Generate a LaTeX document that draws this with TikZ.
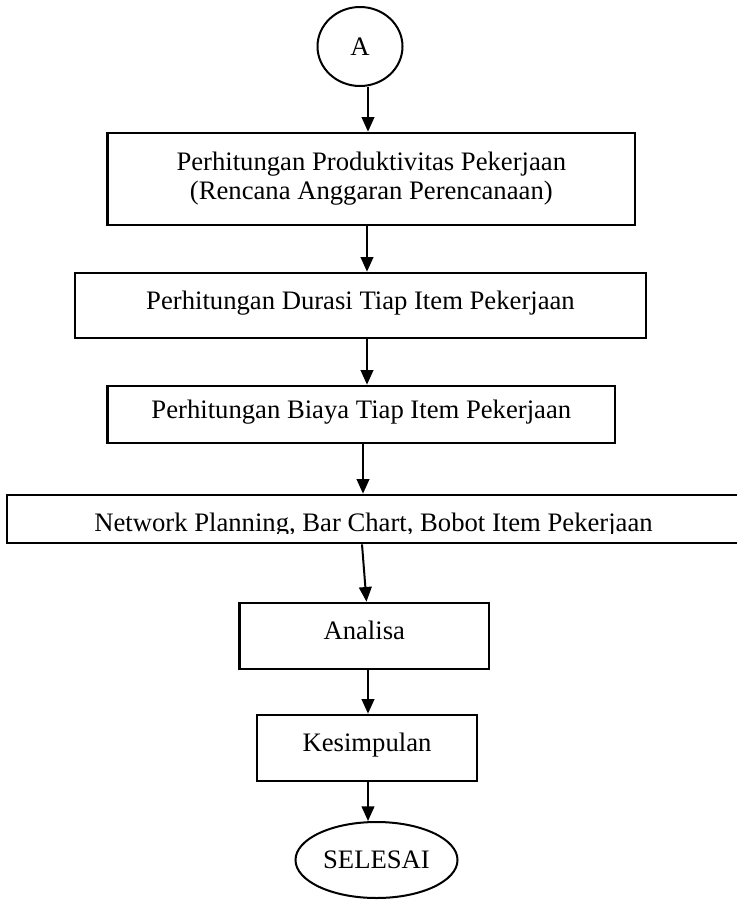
\documentclass[tikz,border=0pt]{standalone}
\usepackage{fontspec}
\setmainfont{Liberation Serif}
\usetikzlibrary{arrows.meta,shapes.geometric}

\tikzset{every picture/.style={line width=0.75pt}}
\tikzset{
  proc/.style={draw, line width=2pt, rectangle, inner sep=0pt, align=center},
  onerow/.style={text depth=8pt},
  term/.style={draw, line width=1.5pt, ellipse, inner sep=0pt},
  flow/.style={line width=1.5pt, -{Triangle[length=11pt,width=9.5pt]}}
}

\begin{document}
\begin{tikzpicture}[x=0.75pt,y=0.75pt,yscale=-1,xscale=1,font=\fontsize{20}{21.75}\selectfont]
\useasboundingbox (0,0) rectangle (737,900);

%Shape: Ellipse
\node [term, minimum width=63.75pt, minimum height=59.25pt] (nA) at (360,46.5) {A};
%Shape: Rectangle
\node [proc, minimum width=395.6pt, minimum height=69pt] (hitProd) at (371.3,179) {Perhitungan Produktivitas Pekerjaan\\(Rencana Anggaran Perencanaan)};
%Shape: Rectangle
\node [proc, onerow, minimum width=428.25pt, minimum height=48.75pt] (hitDur) at (360.5,305.5) {Perhitungan Durasi Tiap Item Pekerjaan};
%Shape: Rectangle
\node [proc, onerow, minimum width=380.6pt, minimum height=42.75pt] (hitBiaya) at (361.3,414.5) {Perhitungan Biaya Tiap Item Pekerjaan};
%Shape: Rectangle
\node [proc, minimum width=551.25pt, minimum height=36pt] (netPlan) at (374.5,519) {};
% Text Node
\begin{scope}
\clip (7,495) rectangle (742,533.5);
\node [anchor=base, inner sep=0pt] (netText) at (373.5,531) {Network Planning, Bar Chart, Bobot Item Pekerjaan};
\end{scope}
%Shape: Rectangle
\node [proc, onerow, minimum width=187.1pt, minimum height=49.5pt] (analisa) at (364.25,636) {Analisa};
%Shape: Rectangle
\node [proc, onerow, minimum width=165pt, minimum height=49.5pt] (simpul) at (367,748) {Kesimpulan};
%Shape: Ellipse
\node [term, minimum width=121.5pt, minimum height=57pt] (selesai) at (376.5,860) {SELESAI};

% columns of the arrows
\coordinate (colA) at (368,0);
\coordinate (colB) at (367,0);
\coordinate (colC) at (363,0);
\coordinate (colD) at (362,0);
\coordinate (colE) at (366.5,0);

%Straight Lines
\draw [flow] (nA.south -| colA) -- (hitProd.north -| colA);
\draw [flow] (hitProd.south -| colB) -- (hitDur.north -| colB);
\draw [flow] (hitDur.south -| colB) -- (hitBiaya.north -| colB);
\draw [flow] (hitBiaya.south -| colC) -- (netPlan.north -| colC);
\draw [flow] (netPlan.south -| colD) -- (analisa.north -| colE);
\draw [flow] (analisa.south -| colA) -- (simpul.north -| colA);
\draw [flow] (simpul.south -| colA) -- (selesai.north -| colA);

\end{tikzpicture}
\end{document}
